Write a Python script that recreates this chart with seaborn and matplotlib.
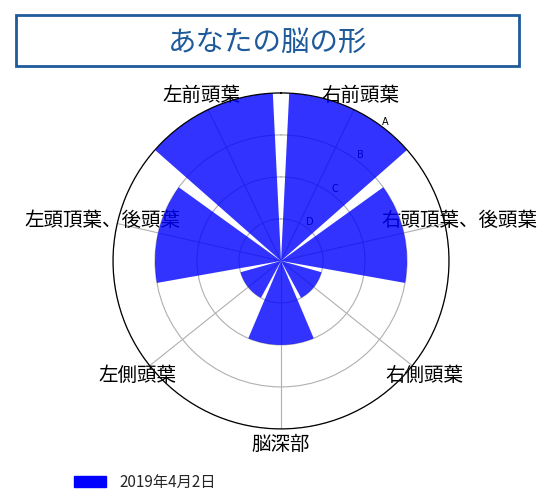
import numpy as np
import seaborn as sns
import matplotlib.pyplot as plt
from matplotlib.patches import Patch, Rectangle

# 脳の部位とスコア (1=D ... 4=A)
regions = ["右前頭葉", "右頭頂葉、後頭葉", "右側頭葉", "脳深部",
           "左側頭葉", "左頭頂葉、後頭葉", "左前頭葉"]
scores = [4, 3, 1, 2, 1, 3, 4]
grade_values = [1, 2, 3, 4]
grade_labels = ["D", "C", "B", "A"]
series_name = "2019年4月2日"
title = "あなたの脳の形"

sns.set_style("white")
plt.rcParams['font.family'] = ['Noto Sans CJK JP', 'DejaVu Sans']

n = len(regions)
step = 2 * np.pi / n
theta = (np.arange(n) + 0.5) * step

fig = plt.figure(figsize=(5.51, 4.97), dpi=100)
ax = fig.add_axes([0.205, 0.137, 0.61, 0.676], projection='polar')
ax.set_theta_zero_location('N')
ax.set_theta_direction(-1)

# 棒 (幅 0.8 rad)
sns.barplot(x=theta, y=scores, native_scale=True, width=0.8 / step,
            color="blue", alpha=0.8, saturation=1, errorbar=None,
            linewidth=0, ax=ax)

ax.set_ylim(0, 4)
ax.set_yticks(grade_values)
ax.set_yticklabels(grade_labels, fontsize=7, color="black", family=['DejaVu Sans'])
ax.set_rlabel_position(37)
ax.set_xticks(theta)
ax.set_xticklabels(regions, fontsize=14, color="black")
ax.tick_params(axis='x', pad=0.5)
ax.set_xlabel("")
ax.set_ylabel("")
ax.grid(True, color="#b0b0b0", linewidth=0.8)
ax.spines['polar'].set_color("black")
ax.spines['polar'].set_linewidth(0.9)

# タイトル枠
fig.patches.append(Rectangle((0.029, 0.867), 0.913, 0.1026, transform=fig.transFigure,
                             fill=False, edgecolor="#1f5a9a", linewidth=2))
fig.text(0.4855, 0.9135, title, ha='center', va='center', fontsize=20.5,
         color="#1f5a9a")

# 凡例
fig.legend(handles=[Patch(color="blue", label=series_name)], loc='center left',
           bbox_to_anchor=(74 / 551, 0.030), frameon=False, fontsize=11,
           borderpad=0, borderaxespad=0, handlelength=2.1, handleheight=0.7,
           handletextpad=0.9)

fig.savefig("out.png", dpi=100)
